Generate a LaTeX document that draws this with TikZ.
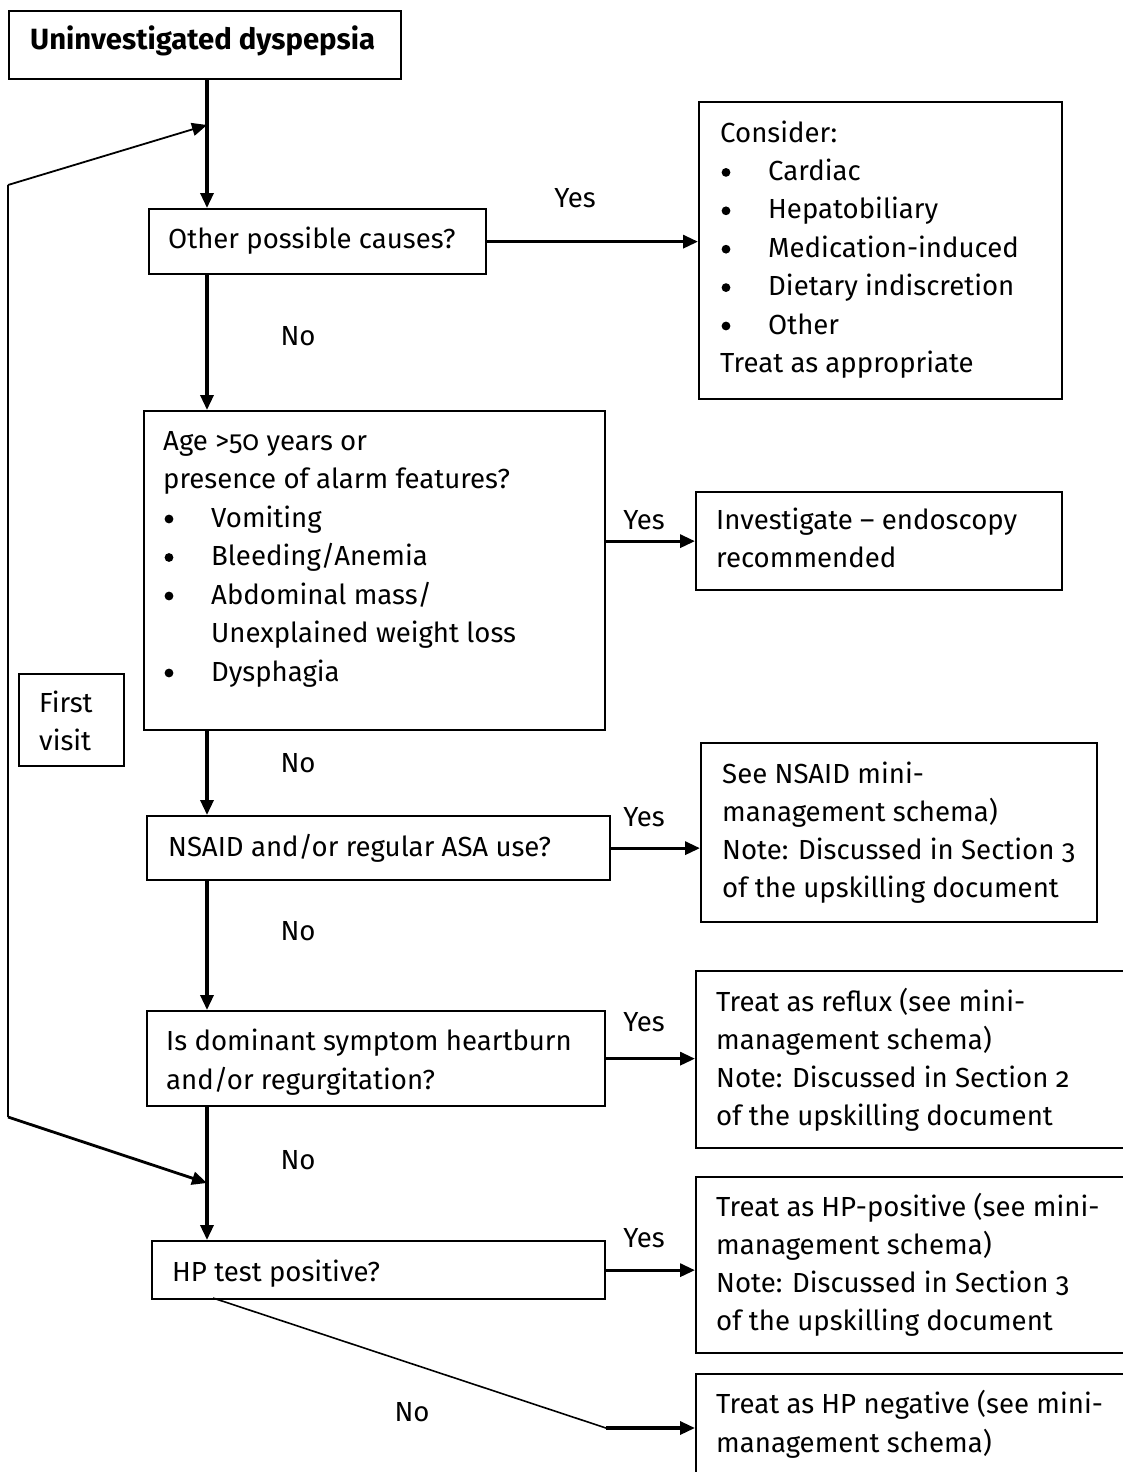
\documentclass[tikz,border=0pt]{standalone}
\usepackage{fontspec}
\setmainfont{Fira Sans}[Numbers=OldStyle]
\usetikzlibrary{arrows.meta}
\begin{document}
\begin{tikzpicture}[x=1pt,y=-1pt,
  box/.style={draw, line width=2.3pt, anchor=north west, inner sep=0pt},
  txt/.style={anchor=base west, inner sep=0pt, font=\fontsize{27.6}{30}\selectfont},
  lab/.style={anchor=base, inner sep=0pt, font=\fontsize{27.6}{30}\selectfont},
  conn/.style={line width=3.3pt, -{Triangle[length=15pt,width=13pt]}},
  thinarr/.style={line width=1.8pt, -{Triangle[length=15pt,width=13pt]}},
  dot/.style={fill=black},
]
\useasboundingbox (0,0) rectangle (1123,1472);
\clip (0,0) rectangle (1123,1472);
\coordinate (spine) at (207,0);

% boxes
\node[box, minimum width=392pt, minimum height=68pt] (start) at (8,10) {};
\node[box, minimum width=337pt, minimum height=65pt] (b2) at (148,208) {};
\node[box, minimum width=363pt, minimum height=297pt] (cons) at (698,101) {};
\node[box, minimum width=461pt, minimum height=319pt] (b3) at (143,410) {};
\node[box, minimum width=366pt, minimum height=98pt] (inv) at (695,491) {};
\node[box, minimum width=105pt, minimum height=92pt] (first) at (18,673) {};
\node[box, minimum width=463pt, minimum height=64pt] (b4) at (146,815) {};
\node[box, minimum width=396pt, minimum height=179pt] (nsaid) at (700,742) {};
\node[box, minimum width=458pt, minimum height=95pt] (b5) at (146,1010) {};
\node[box, minimum width=460pt, minimum height=177pt] (reflux) at (695,970) {};
\node[box, minimum width=453pt, minimum height=58pt] (b6) at (151,1240) {};
\node[box, minimum width=460pt, minimum height=176pt] (hppos) at (695,1176) {};
\node[box, minimum width=460pt, minimum height=140pt] (hpneg) at (695,1373) {};

% texts
\node[txt, font=\fontsize{29.3}{30}\selectfont\bfseries] (tstart) at (30,50) {Uninvestigated dyspepsia};
\node[txt] (tb2) at (168,248) {Other possible causes?};
\node[txt] (tc0) at (720,142) {Consider:};
\foreach \t [count=\i] in {Cardiac,Hepatobiliary,Medication-induced,Dietary indiscretion,Other}{
  \node[txt] (tc\i) at (768, 142+\i*38.4) {\t};
  \fill[dot] (726, 134+\i*38.4) circle (4.4pt);
}
\node[txt] (tc6) at (720,372.4) {Treat as appropriate};
\node[txt] (tb30) at (163,450) {Age >50 years or};
\node[txt] (tb31) at (163,488.5) {presence of alarm features?};
\node[txt] (tb32) at (211,527) {Vomiting};
\node[txt] (tb33) at (211,565.5) {Bleeding/Anemia};
\node[txt] (tb34) at (211,604) {Abdominal mass/};
\node[txt] (tb35) at (211,642.5) {Unexplained weight loss};
\node[txt] (tb36) at (211,681) {Dysphagia};
\foreach \yy in {527,565.5,604,681}
  \fill[dot] (169, \yy-8) circle (4.4pt);
\node[txt] (ti1) at (716,529) {Investigate -- endoscopy};
\node[txt] (ti2) at (716,567) {recommended};
\node[txt] (tf1) at (39,712) {First};
\node[txt] (tf2) at (39,750) {visit};
\node[txt] (tb4) at (168,856) {NSAID and/or regular ASA use?};
\foreach \t [count=\i from 0] in {See NSAID mini-,management schema),Note: Discussed in Section 3,of the upskilling document}
  \node[txt] (tn\i) at (722, 783+\i*38) {\t};
\node[txt] (tb51) at (166,1050) {Is dominant symptom heartburn};
\node[txt] (tb52) at (166,1089) {and/or regurgitation?};
\foreach \t [count=\i from 0] in {Treat as reflux (see mini-,management schema),Note: Discussed in Section 2,of the upskilling document}
  \node[txt] (tr\i) at (716, 1011+\i*38) {\t};
\node[txt] (tb6) at (172,1281) {HP test positive?};
\foreach \t [count=\i from 0] in {Treat as HP-positive (see mini-,management schema),Note: Discussed in Section 3,of the upskilling document}
  \node[txt] (tp\i) at (716, 1216+\i*38) {\t};
\node[txt] (tq1) at (716,1413) {Treat as HP negative (see mini-};
\node[txt] (tq2) at (716,1452) {management schema)};

% labels
\node[lab] (y1) at (575,207) {Yes};
\node[lab] (n1) at (298,345) {No};
\node[lab] (y2) at (644,529) {Yes};
\node[lab] (n2) at (298,772) {No};
\node[lab] (y3) at (644,826) {Yes};
\node[lab] (n3) at (298,940) {No};
\node[lab] (y4) at (644,1031) {Yes};
\node[lab] (n4) at (298,1169) {No};
\node[lab] (y5) at (644,1247) {Yes};
\node[lab] (n5) at (412,1421) {No};

% spine connectors
\draw[conn] (start.south -| spine) -- (b2.north -| spine);
\draw[conn] (b2.south -| spine) -- (b3.north -| spine);
\draw[conn] (b3.south -| spine) -- (b4.north -| spine);
\draw[conn] (b4.south -| spine) -- (b5.north -| spine);
\draw[conn] (b5.south -| spine) -- (b6.north -| spine);

% yes connectors
\draw[conn] (b2.east) -- (cons.west |- b2.east);
\draw[conn] (b3.east |- inv.west) -- (inv.west);
\draw[conn] (b4.east) -- (nsaid.west |- b4.east);
\draw[conn] (b5.east) -- (reflux.west |- b5.east);
\draw[conn] (b6.east) -- (hppos.west |- b6.east);

% loop (first visit)
\coordinate (lt) at (8,185);
\coordinate (lb) at (8,1117);
\coordinate (jt) at (207,125);
\coordinate (jb) at (207,1183);
\draw[line width=1.8pt] (lb) -- (lt);
\draw[thinarr] (lt) -- (jt);
\draw[line width=2.8pt, -{Triangle[length=15pt,width=13pt]}] (lb) -- (jb);

% HP negative
\coordinate (nd) at (213,1298);
\coordinate (nm) at (606,1428);
\draw[line width=1.6pt] (nd) -- (nm);
\draw[conn] (nm) -- (hpneg.west |- nm);
\end{tikzpicture}
\end{document}
